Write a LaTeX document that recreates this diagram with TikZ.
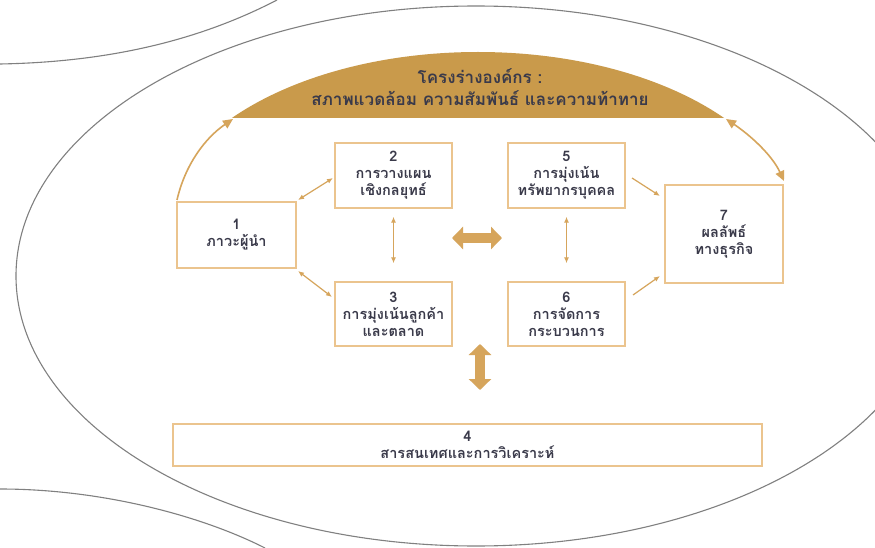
\documentclass[tikz,border=0pt]{standalone}
\usepackage{fontspec}
\newfontfamily\thaifont[Script=Thai]{Loma}
\usetikzlibrary{arrows.meta}
\definecolor{tanc}{HTML}{D6A55C}
\definecolor{boxline}{HTML}{EBC48E}
\definecolor{hdr}{HTML}{C99A4B}
\definecolor{txt}{HTML}{3A3A4A}
\definecolor{ring}{HTML}{808080}
\begin{document}
\begin{tikzpicture}[x=1pt,y=-1pt,
  box/.style={draw=boxline, line width=1.4pt, fill=white, inner sep=0pt, align=center,
    font=\thaifont\bfseries\fontsize{14.5}{17}\selectfont, text=txt},
  thinarrow/.style={draw=tanc, line width=1.2pt, {Latex[length=6pt,width=5pt]}-{Latex[length=6pt,width=5pt]}},
  onearrow/.style={draw=tanc, line width=1.2pt, -{Latex[length=6pt,width=5pt]}},
  fatarrow/.style={draw=tanc, line width=10pt, {Triangle[length=11pt,width=22pt]}-{Triangle[length=11pt,width=22pt]}},
  curvearrow/.style={draw=tanc, line width=1.6pt},
  ringline/.style={draw=ring, line width=1.1pt},
  hdrtext/.style={font=\thaifont\bfseries\fontsize{17}{22}\selectfont, text=txt, align=center}
]
\useasboundingbox (0,0) rectangle (875,548);
\clip (0,0) rectangle (875,548);
\fill[white] (0,0) rectangle (875,548);

% outer curves
\draw[ringline] (476,276) ellipse [x radius=460, y radius=270];
\draw[ringline] (0,64) .. controls (110,62) and (200,40) .. (277,0);
\draw[ringline] (0,489) .. controls (100,489) and (200,515) .. (265,548);

% header
\begin{scope}
  \clip (0,0) rectangle (875,118);
  \fill[hdr] (478,232) ellipse [x radius=318, y radius=180];
\end{scope}
\node[hdrtext] (hdr) at (480,87) {โครงร่างองค์กร :\\สภาพแวดล้อม ความสัมพันธ์ และความท้าทาย};
\coordinate (hl) at (233,119);
\coordinate (hr) at (726,119);

% boxes
\node[box, minimum width=119pt, minimum height=66pt] (b1) at (236.5,235) {1\\ภาวะผู้นำ};
\node[box, minimum width=117pt, minimum height=65pt] (b2) at (393.5,175.5) {2\\การวางแผน\\เชิงกลยุทธ์};
\node[box, minimum width=117pt, minimum height=64pt] (b3) at (393.5,314) {3\\การมุ่งเน้นลูกค้า\\และตลาด};
\node[box, minimum width=117pt, minimum height=65pt] (b5) at (566.5,175.5) {5\\การมุ่งเน้น\\ทรัพยากรบุคคล};
\node[box, minimum width=117pt, minimum height=64pt] (b6) at (566.5,314) {6\\การจัดการ\\กระบวนการ};
\node[box, minimum width=118pt, minimum height=98pt] (b7) at (724,234) {7\\ผลลัพธ์\\ทางธุรกิจ};
\node[box, minimum width=589pt, minimum height=42pt] (b4) at (467.5,445) {4\\สารสนเทศและการวิเคราะห์};

% thin arrows
\coordinate (a12s) at (298,200); \coordinate (a12e) at (333,178);
\draw[thinarrow] (a12s) -- (a12e);
\coordinate (a13s) at (298,271); \coordinate (a13e) at (332,297);
\draw[thinarrow] (a13s) -- (a13e);
\draw[thinarrow] ([yshift=-8pt]b2.south) -- ([yshift=18pt]b3.north);
\draw[thinarrow] ([yshift=-8pt]b5.south) -- ([yshift=18pt]b6.north);
\coordinate (a57s) at (632,178); \coordinate (a57e) at (660,196);
\draw[onearrow] (a57s) -- (a57e);
\coordinate (a67s) at (633,295); \coordinate (a67e) at (660,276);
\draw[onearrow] (a67s) -- (a67e);

% fat arrows
\coordinate (fl) at (452,238); \coordinate (fr) at (502,238);
\draw[fatarrow] (fl) -- (fr);
\coordinate (ft) at (480,344); \coordinate (fb) at (480,390);
\draw[fatarrow] (ft) -- (fb);

% curved arrows
\coordinate (c1) at (177,200);
\draw[curvearrow, -{Triangle[length=10pt,width=9pt]}] (c1) .. controls (185,165) and (205,138) .. (hl);
\coordinate (c7) at (784,181);
\draw[curvearrow, {Triangle[length=10pt,width=9pt]}-{Triangle[length=10pt,width=9pt]}] (hr) .. controls (750,135) and (772,155) .. (c7);
\end{tikzpicture}
\end{document}
